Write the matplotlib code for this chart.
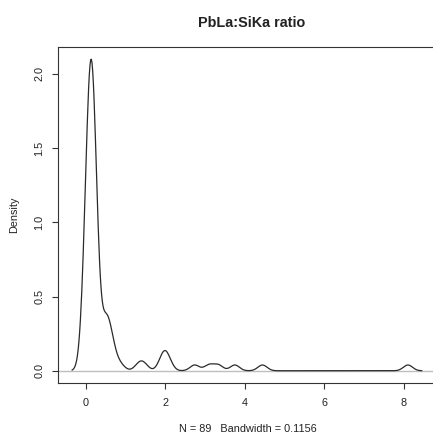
import numpy as np
import matplotlib
matplotlib.use("Agg")
import matplotlib.pyplot as plt

# Observed PbLa:SiKa ratios (N = 89), estimated from the density curve
ratio_values = [
    0.00, 0.00, 0.00, 0.00, 0.00, 0.01, 0.01, 0.01, 0.01, 0.02, 0.02, 0.02, 0.03, 0.03, 0.04,
    0.08, 0.09, 0.09, 0.10, 0.10, 0.10, 0.11, 0.11, 0.11, 0.11,
    0.12, 0.12, 0.12, 0.12, 0.12, 0.13, 0.13, 0.13, 0.13,
    0.14, 0.14, 0.14, 0.14, 0.14, 0.15, 0.15, 0.15, 0.15, 0.16, 0.16, 0.16, 0.17, 0.17, 0.18,
    0.19, 0.19, 0.20, 0.20, 0.21, 0.21, 0.21, 0.21, 0.22, 0.22, 0.22, 0.22, 0.23, 0.23, 0.24,
    0.30,
    0.46, 0.48, 0.49, 0.50, 0.50, 0.52, 0.53,
    0.582, 0.64, 0.66, 0.67, 0.865,
    1.33, 1.46,
    1.91, 1.97, 2.00, 2.08,
    2.735, 3.093, 3.328, 3.745, 4.440, 8.100,
]
bandwidth = 0.1156
title_text = "PbLa:SiKa ratio"
y_ticks = [0.0, 0.5, 1.0, 1.5, 2.0]
y_tick_labels = ["0.0", "0.5", "1.0", "1.5", "2.0"]
x_ticks = [0, 2, 4, 6, 8]
x_tick_labels = ["0", "2", "4", "6", "8"]

data = np.array(ratio_values)
n = len(data)
cut = 3
grid = np.linspace(data.min() - cut * bandwidth, data.max() + cut * bandwidth, 512)
dens = np.exp(-0.5 * ((grid[:, None] - data[None, :]) / bandwidth) ** 2).sum(1) / (
    n * bandwidth * np.sqrt(2 * np.pi))

plt.rcParams['font.family'] = ['Liberation Sans', 'DejaVu Sans']

W, H = 433, 434
fig = plt.figure(figsize=(W / 100, H / 100), dpi=100)
left_px, right_px = 58.2, 435.7
top_px, bottom_px = 46.7, 383.2
ax = fig.add_axes([left_px / W, 1 - bottom_px / H, (right_px - left_px) / W, (bottom_px - top_px) / H])

xr = grid.max() - grid.min()
ax.set_xlim(grid.min() - 0.04 * xr, grid.max() + 0.04 * xr)
ymax = dens.max()
ax.set_ylim(-0.04 * ymax, ymax * 1.04)

ax.axhline(0, color='#bebebe', lw=1.0, zorder=1)
ax.plot(grid, dens, color='#2a2a2a', lw=0.9, zorder=2)

ax.set_xticks(x_ticks)
ax.set_xticklabels(x_tick_labels)
ax.set_yticks(y_ticks)
ax.set_yticklabels(y_tick_labels, rotation=90, va='center')
ax.tick_params(direction='out', length=4.3, width=0.8, color='#333333', labelsize=7.8,
               labelcolor='#222222')
ax.tick_params(axis='x', pad=6.3)
ax.tick_params(axis='y', pad=5.8)
for sp in ax.spines.values():
    sp.set_color('#333333')
    sp.set_linewidth(0.8)

fig.text(252 / W, 1 - 22.7 / H, title_text, ha='center', va='center', fontsize=10.4,
         fontweight='bold', color='#222222')
fig.text(247.9 / W, 1 - 428.5 / H, "N = %d   Bandwidth = %.4f" % (n, bandwidth),
         ha='center', va='center', fontsize=7.8, color='#222222')
fig.text(14 / W, 1 - 215 / H, "Density", ha='center', va='center', rotation=90,
         fontsize=7.8, color='#222222')

fig.savefig("out.png", dpi=100)
